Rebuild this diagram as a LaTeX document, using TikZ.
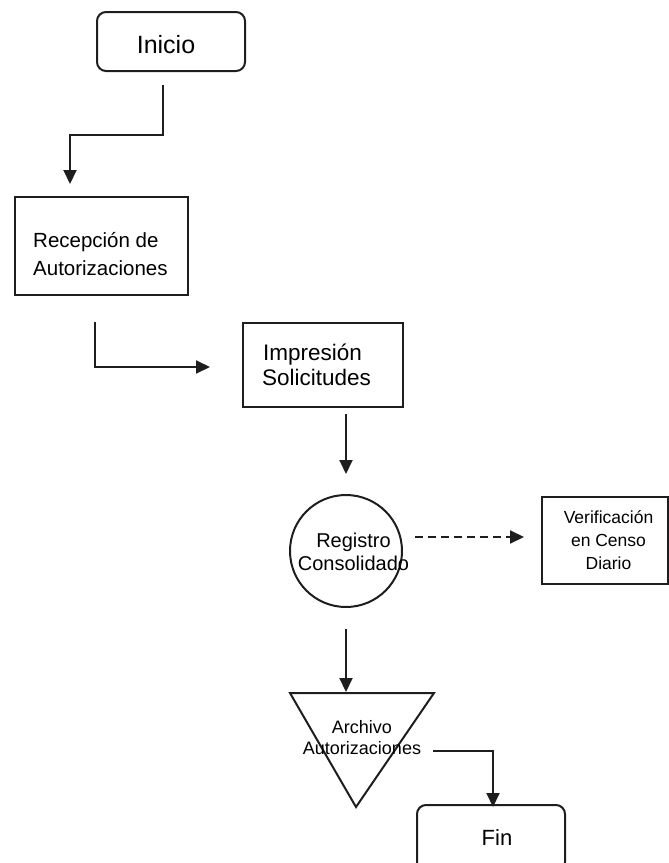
\documentclass[tikz,border=0pt]{standalone}
\usepackage{fontspec}
\setmainfont{Liberation Sans}
\usetikzlibrary{arrows.meta}
\definecolor{lineg}{HTML}{1E1E1E}
\tikzset{
  boxshape/.style={draw=lineg, line width=2pt, inner sep=0pt},
  roundbox/.style={boxshape, rounded corners=9pt},
  txt/.style={inner sep=0pt, align=left, text=black},
  ctxt/.style={inner sep=0pt, align=center, text=black},
  conn/.style={draw=lineg, line width=2pt, -{Triangle[length=14pt,width=13pt]}},
  dconn/.style={conn, dash pattern=on 8pt off 5pt}
}
\begin{document}
\begin{tikzpicture}[x=1pt,y=-1pt]
\useasboundingbox (0,0) rectangle (669,863);
% nodes
\node[roundbox, minimum width=148pt, minimum height=59pt] (inicio) at (171,41.5) {};
\node[ctxt, font=\fontsize{25}{28}\selectfont] (inicioT) at (166,45) {Inicio};

\node[boxshape, minimum width=173pt, minimum height=98pt] (recep) at (101.5,246) {};
\node[txt, anchor=west, font=\fontsize{20.5}{28}\selectfont] (recepT) at (33,254) {Recepción de\\Autorizaciones};

\node[boxshape, minimum width=160pt, minimum height=84pt] (impr) at (323,365) {};
\node[txt, anchor=west, font=\fontsize{22.5}{25}\selectfont] (imprT) at (262,364.5) {\hspace*{1pt}Impresión\\Solicitudes};

\node[draw=lineg, line width=2pt, circle, minimum size=112pt, inner sep=0pt] (reg) at (346,551) {};
\node[ctxt, font=\fontsize{20}{23}\selectfont] (regT) at (353.5,551.5) {Registro\\Consolidado};

\node[boxshape, minimum width=126pt, minimum height=87pt] (verif) at (605,540.5) {};
\node[ctxt, font=\fontsize{17.5}{23}\selectfont] (verifT) at (608.5,540) {Verificación\\en Censo\\Diario};

\draw[draw=lineg, line width=2pt, line join=miter] (290,693) coordinate (t1) -- (434,693) coordinate (t2) -- (356,807) coordinate (t3) -- cycle;
\node[ctxt, font=\fontsize{18}{21}\selectfont] (archT) at (362,737.5) {Archivo\\Autorizaciones};

\node[roundbox, minimum width=148pt, minimum height=66pt] (fin) at (491,838) {};
\node[ctxt, font=\fontsize{22}{26}\selectfont] (finT) at (497,838) {Fin};

% connector end points
\coordinate (a1) at (163,85);
\coordinate (a2) at (70,184);
\coordinate (b1) at (95,322);
\coordinate (b2) at (210,367);
\coordinate (c1) at (346,414);
\coordinate (c2) at (346,474);
\coordinate (d1) at (415,537);
\coordinate (d2) at (524,537);
\coordinate (e1) at (346,629);
\coordinate (e2) at (346,692);
\coordinate (f1) at (433,751);
\coordinate (f2) at (493,807);

\draw[conn] (a1) -- (163,134.5) -| (a2);
\draw[conn] (b1) |- (b2);
\draw[conn] (c1) -- (c2);
\draw[dconn] (d1) -- (d2);
\draw[conn] (e1) -- (e2);
\draw[conn] (f1) -| (f2);
\end{tikzpicture}
\end{document}
